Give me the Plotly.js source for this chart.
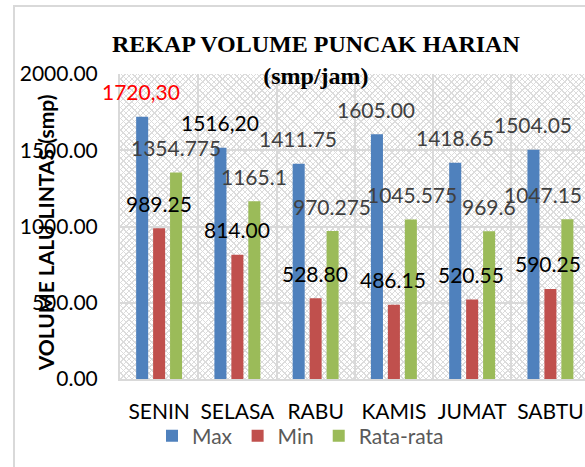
<!DOCTYPE html>
<html>
<head>
<meta charset="utf-8">
<script src="https://cdn.plot.ly/plotly-3.0.1.min.js"></script>
<style>
  html, body { margin:0; padding:0; background:#ffffff; }
  #wrap { position:relative; width:585px; height:467px; overflow:hidden; background:#fff; }
  #frame { position:absolute; left:13px; top:5px; width:700px; height:600px;
           border-left:2px solid #d9d9d9; border-top:2px solid #d9d9d9; box-sizing:border-box; }
  #hatch { position:absolute; left:120px; top:74px; width:465px; height:305px;
           background:
             repeating-linear-gradient(45deg, #dcdcdc 0px, #dcdcdc 1px, rgba(255,255,255,0) 1px, rgba(255,255,255,0) 4px),
             repeating-linear-gradient(-45deg, #dcdcdc 0px, #dcdcdc 1px, rgba(255,255,255,0) 1px, rgba(255,255,255,0) 4px),
             #ffffff; }
  #chart { position:absolute; left:0; top:0; width:585px; height:467px; }
</style>
</head>
<body>
<div id="wrap">
  <div id="frame"></div>
  <div id="hatch"></div>
  <div id="chart"></div>
</div>
<script>
const categories = ["SENIN", "SELASA", "RABU", "KAMIS", "JUMAT", "SABTU"];
const seriesNames = ["Max", "Min", "Rata-rata"];
const maxValues = [1720.30, 1516.20, 1411.75, 1605.00, 1418.65, 1504.05];
const minValues = [989.25, 814.00, 528.80, 486.15, 520.55, 590.25];
const avgValues = [1354.775, 1165.1, 970.275, 1045.575, 969.6, 1047.15];
const maxLabels = ["1720,30", "1516,20", "1411.75", "1605.00", "1418.65", "1504.05"];
const minLabels = ["989.25", "814.00", "528.80", "486.15", "520.55", "590.25"];
const avgLabels = ["1354.775", "1165.1", "970.275", "1045.575", "969.6", "1047.15"];
const yTickValues = [0, 500, 1000, 1500, 2000];
const yTickLabels = ["0.00", "500.00", "1000.00", "1500.00", "2000.00"];

const colors = ["#4F81BD", "#C0504D", "#9BBB59"];
const FONT = "Lato, 'Open Sans', sans-serif";

const seriesValues = [maxValues, minValues, avgValues];
const seriesLabels = [maxLabels, minLabels, avgLabels];

const traces = seriesValues.map((vals, k) => ({
  type: "bar",
  name: seriesNames[k],
  x: categories,
  y: vals,
  marker: { color: colors[k] },
  hoverinfo: "none"
}));

// label styling (offsets in px relative to bar top, colours)
const groupShift = [-17, 0, 17];
const labelColors = [
  ["#ff0000", "#000000", "#404040", "#404040", "#404040", "#404040"],
  ["#000000", "#000000", "#000000", "#000000", "#000000", "#000000"],
  ["#404040", "#404040", "#404040", "#404040", "#404040", "#404040"]
];
const extraShift = [
  [-1, 0, -1, -1, 0, 0],
  [0, 0, -1, -1, -1, -2],
  [0, 0, -1, 1, 0, -24]
];
const annotations = [];
seriesValues.forEach((vals, k) => {
  vals.forEach((v, i) => {
    annotations.push({
      x: categories[i], y: v, xref: "x", yref: "y",
      text: seriesLabels[k][i],
      showarrow: false,
      xanchor: "center", yanchor: "middle",
      xshift: groupShift[k] + extraShift[k][i],
      yshift: 25,
      font: { family: FONT, size: 21, color: labelColors[k][i] }
    });
  });
});
annotations.push({
  xref: "paper", yref: "paper",
  x: -0.161, y: 0.478,
  xanchor: "center", yanchor: "middle",
  text: "VOLUME LALU LINTAS (smp)",
  textangle: -90,
  showarrow: false,
  font: { family: FONT, size: 21, color: "#000000", weight: "bold" }
});

const layout = {
  width: 585, height: 467,
  margin: { l: 120, r: 0, t: 74, b: 88 },
  paper_bgcolor: "rgba(0,0,0,0)",
  plot_bgcolor: "rgba(0,0,0,0)",
  showlegend: true,
  title: {
    text: "<b>REKAP VOLUME PUNCAK HARIAN</b><br><b>(smp/jam)</b>",
    font: { family: "'Liberation Serif', 'Times New Roman', serif", size: 24, color: "#000000" },
    xref: "container", yref: "container",
    x: 0.540, xanchor: "center",
    y: 0.888, yanchor: "middle"
  },
  bargap: 0.35,
  bargroupgap: 0.29,
  xaxis: {
    type: "category",
    range: [-0.5, 5.442],
    tickson: "boundaries",
    ticks: "",
    tickangle: 0,
    automargin: false,
    showgrid: true,
    gridcolor: "#d9d9d9",
    gridwidth: 2,
    showline: true,
    linecolor: "#d9d9d9",
    linewidth: 2,
    ticklabelstandoff: 13,
    tickfont: { family: FONT, size: 21, color: "#000000" }
  },
  yaxis: {
    range: [0, 2000],
    tickvals: yTickValues,
    ticktext: yTickLabels,
    ticks: "",
    automargin: false,
    showgrid: true,
    gridcolor: "#d9d9d9",
    gridwidth: 2,
    zeroline: false,
    showline: true,
    linecolor: "#d9d9d9",
    linewidth: 2,
    ticklabelstandoff: 16,
    tickfont: { family: FONT, size: 21, color: "#000000" }
  },
  legend: {
    orientation: "h",
    xref: "container", xanchor: "left",
    yref: "container", yanchor: "middle",
    font: { family: FONT, size: 21, color: "#595959" },
    bgcolor: "rgba(0,0,0,0)",
    itemclick: false
  },
  annotations: annotations
};
layout.legend.x = 152 / 585;
layout.legend.y = (467 - 436) / 467;

Plotly.newPlot("chart", traces, layout, { displayModeBar: false, staticPlot: true });
</script>
</body>
</html>
